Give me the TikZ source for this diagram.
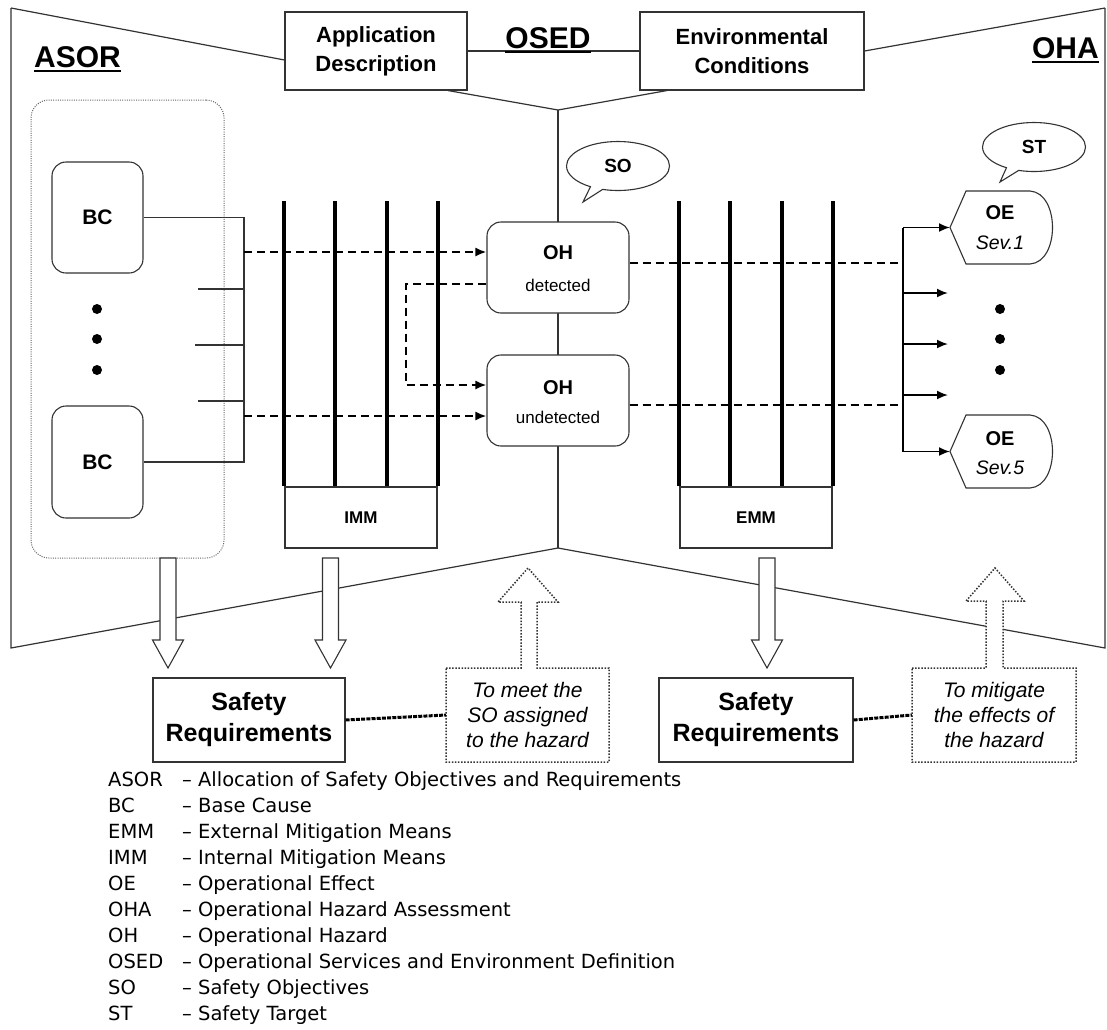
\documentclass[tikz,border=0pt]{standalone}
\usepackage{fontspec}
\setmainfont{Liberation Sans}
\newfontfamily\legendfont{DejaVu Sans}
\usetikzlibrary{shapes.callouts,shapes.geometric,arrows.meta,calc}
\newcommand\hollowdown[5]{% hollow arrow: x, ytop, ybase, ytip, halfhead
  \draw[hollow] (#1-8,#2) -- (#1+8,#2) -- (#1+8,#3) -- (#1+#5,#3) -- (#1,#4) -- (#1-#5,#3) -- (#1-8,#3) -- cycle;}
\begin{document}
\begin{tikzpicture}[x=1pt,y=-1pt,
  frame/.style={line width=1.2pt, draw=black!80},
  box/.style={draw=black!80, line width=1.1pt, fill=white, inner sep=0pt, align=center},
  rbox/.style={box, rounded corners=14pt},
  bar/.style={line width=4pt, draw=black},
  dashl/.style={line width=2pt, dash pattern=on 8pt off 5pt},
  dasharrow/.style={dashl, -{Latex[length=11pt,width=9pt]}},
  solidarrow/.style={line width=1.8pt, -{Latex[length=11pt,width=9pt]}},
  hollow/.style={line width=1.1pt, draw=black!80, fill=white},
  dotline/.style={line width=1.5pt, draw=black!80, dash pattern=on 1.5pt off 1.6pt},
  thickdot/.style={line width=3pt, draw=black, dash pattern=on 4pt off 1.2pt},
  title/.style={font=\bfseries\fontsize{30}{36}\selectfont, inner sep=0pt},
  callout/.style={ellipse callout, draw=black!80, line width=1.1pt, fill=white, minimum width=103pt, minimum height=49pt, inner sep=0pt, font=\bfseries\fontsize{19}{22}\selectfont},
  dot/.style={circle, fill=black, inner sep=0pt, minimum size=10pt},
  legend/.style={anchor=base west, inner sep=0pt, font=\legendfont\fontsize{19.5}{23}\selectfont}
]
\useasboundingbox[fill=white] (0,0) rectangle (1107,1029);

% ---------- frame ----------
\coordinate (tl) at (11,8);
\coordinate (bl) at (11,648);
\coordinate (cb) at (558,548);
\coordinate (ct) at (558,110);
\coordinate (br) at (1105,648);
\coordinate (tr) at (1105,8);

\node[box, minimum width=182pt, minimum height=78pt, font=\bfseries\fontsize{22}{29}\selectfont] (app) at (376,51) {Application\\Description};
\node[box, minimum width=224pt, minimum height=78pt, font=\bfseries\fontsize{22}{29}\selectfont] (env) at (752,51) {Environmental\\Conditions};

\draw[frame] (tl) -- ([yshift=-9pt]app.west);
\draw[frame] (app.east) -- (env.west);
\draw[frame] (env.east) -- (tr);
\draw[frame] ([xshift=72pt]app.south) -- (ct);
\draw[frame] ([xshift=-85pt]env.south) -- (ct);
\draw[frame] (tl) -- (bl) -- (cb) -- (br) -- (tr);
\draw[frame] (ct) -- (cb);

% ---------- titles ----------
\node[title, anchor=base west] (asor) at (34,67) {ASOR};
\draw[line width=2.5pt] ([yshift=-4pt]asor.base west) -- ([yshift=-4pt]asor.base east);
\node[title, anchor=base, fill=white, inner sep=1pt] (osed) at (548,48) {OSED};
\draw[line width=2.5pt] ([yshift=-4pt,xshift=1pt]osed.base west) -- ([yshift=-4pt,xshift=-1pt]osed.base east);
\node[title, anchor=base east] (oha) at (1099,58) {OHA};
\draw[line width=2.5pt] ([yshift=-4pt]oha.base west) -- ([yshift=-4pt]oha.base east);

% ---------- ASOR group ----------
\node[draw=black!60, line width=1pt, dash pattern=on 1pt off 1.3pt, rounded corners=18pt, minimum width=193pt, minimum height=458pt] (asorgrp) at (127.5,329) {};
\node[rbox, minimum width=91pt, minimum height=111pt, font=\bfseries\fontsize{21}{24}\selectfont] (bc1) at (97.5,217.5) {BC};
\node[rbox, minimum width=91pt, minimum height=112pt, font=\bfseries\fontsize{21}{24}\selectfont] (bc2) at (97.5,462) {BC};
\node[dot] (ld1) at (97,309) {};
\node[dot] (ld2) at (97,339) {};
\node[dot] (ld3) at (97,370) {};

\coordinate (bus1) at (244,217.5);
\coordinate (bus2) at (244,462);
\draw[frame] (bc1.east) -- (bus1) -- (bus2) -- (bc2.east);
\coordinate (st1) at (198,289);
\coordinate (st2) at (195,345);
\coordinate (st3) at (198,401);
\draw[frame] (st1) -- (st1 -| bus1);
\draw[frame] (st2) -- (st2 -| bus1);
\draw[frame] (st3) -- (st3 -| bus1);

% ---------- IMM ----------
\node[box, minimum width=152pt, minimum height=61pt, font=\bfseries\fontsize{17}{20}\selectfont] (imm) at (361,517.5) {IMM};
\foreach \t in {0,0.333,0.667,1}
  \draw[bar] ($(imm.north west)!\t!(imm.north east)+(0,-285)$) -- ($(imm.north west)!\t!(imm.north east)$);

% ---------- EMM ----------
\node[box, minimum width=152pt, minimum height=61pt, font=\bfseries\fontsize{17}{20}\selectfont] (emm) at (756,517.5) {EMM};
\foreach \t in {0,0.333,0.667,1}
  \draw[bar] ($(emm.north west)!\t!(emm.north east)+(0,-285)$) -- ($(emm.north west)!\t!(emm.north east)$);

% ---------- OH boxes ----------
\node[rbox, minimum width=142pt, minimum height=91pt] (oh1) at (558,267.5) {};
\node[inner sep=0pt, font=\bfseries\fontsize{20}{22}\selectfont] (oh1a) at (558,253) {OH};
\node[inner sep=0pt, font=\fontsize{17}{20}\selectfont] (oh1b) at (558,285) {detected};
\node[rbox, minimum width=142pt, minimum height=91pt] (oh2) at (558,400.5) {};
\node[inner sep=0pt, font=\bfseries\fontsize{20}{22}\selectfont] (oh2a) at (558,388) {OH};
\node[inner sep=0pt, font=\fontsize{17}{20}\selectfont] (oh2b) at (558,417) {undetected};

% dashed arrows left
\coordinate (s1) at (244,252);
\coordinate (s2) at (244,416);
\draw[dasharrow] (s1) -- (s1 -| oh1.west);
\draw[dasharrow] (s2) -- (s2 -| oh2.west);
\coordinate (k1) at (406,284);
\coordinate (k2) at (406,385);
\draw[dasharrow] (k1 -| oh1.west) -- (k1) -- (k2) -- (k2 -| oh2.west);

% callouts
\node[callout, callout absolute pointer={(583,202)}] (so) at (618,166) {SO};
\node[callout, callout absolute pointer={(1000,182)}] (st) at (1034,147) {ST};

% ---------- OE shapes ----------
\coordinate (oe1tip) at (950,227.5);
\coordinate (oe5tip) at (950,451.5);
\draw[line width=1.1pt, draw=black!80, fill=white] (oe1tip) -- (966,191) -- (1030,191) .. controls (1060,193) and (1060,262) .. (1030,264) -- (966,264) -- cycle;
\draw[line width=1.1pt, draw=black!80, fill=white] (oe5tip) -- (966,415) -- (1030,415) .. controls (1060,417) and (1060,486) .. (1030,488) -- (966,488) -- cycle;
\node[inner sep=0pt, font=\bfseries\fontsize{20}{22}\selectfont] (oe1a) at (1000,213) {OE};
\node[inner sep=0pt, font=\itshape\fontsize{19.5}{22}\selectfont] (oe1b) at (1000,243) {Sev.1};
\node[inner sep=0pt, font=\bfseries\fontsize{20}{22}\selectfont] (oe5a) at (1000,439) {OE};
\node[inner sep=0pt, font=\itshape\fontsize{19.5}{22}\selectfont] (oe5b) at (1000,468) {Sev.5};
\node[dot] (rd1) at (1000,309) {};
\node[dot] (rd2) at (1000,339) {};
\node[dot] (rd3) at (1000,370) {};

% right bus
\coordinate (rb1) at (903,227.5);
\coordinate (rb5) at (903,451.5);
\coordinate (rb2) at (903,293);
\coordinate (rb3) at (903,344);
\coordinate (rb4) at (903,395);
\coordinate (re2) at (948,293);
\coordinate (re3) at (948,344);
\coordinate (re4) at (948,395);
\draw[line width=1.8pt] (rb1) -- (rb5);
\draw[solidarrow] (rb1) -- (oe1tip);
\draw[solidarrow] (rb5) -- (oe5tip);
\draw[solidarrow] (rb2) -- (re2);
\draw[solidarrow] (rb3) -- (re3);
\draw[solidarrow] (rb4) -- (re4);

\coordinate (r1) at (903,263);
\coordinate (r2) at (903,405);
\draw[dashl] (r1 -| oh1.east) -- (r1);
\draw[dashl] (r2 -| oh2.east) -- (r2);

% ---------- bottom: hollow arrows ----------
\hollowdown{168}{558}{640}{668}{15.5}
\hollowdown{330.5}{558}{640}{668}{15.5}
\hollowdown{767}{558}{640}{668}{15.5}

\node[box, minimum width=192pt, minimum height=84pt, font=\bfseries\fontsize{25}{31}\selectfont] (sr1) at (249,720) {Safety\\Requirements};
\node[box, minimum width=194pt, minimum height=84pt, font=\bfseries\fontsize{25}{31}\selectfont] (sr2) at (756,720) {Safety\\Requirements};

% dotted boxes with up arrows
\draw[dotline, fill=white] (446,668) -- (521,668) -- (521,602) -- (498,602) -- (528,568) -- (558,602) -- (537,602) -- (537,668) -- (609,668) -- (609,762) -- (446,762) -- cycle;
\node[inner sep=0pt, minimum width=163pt, minimum height=94pt, align=center, font=\itshape\fontsize{21}{25}\selectfont] (db1) at (527.5,715) {To meet the\\SO assigned\\to the hazard};
\draw[dotline, fill=white] (912,668) -- (986,668) -- (986,601) -- (966,601) -- (995,568) -- (1024,601) -- (1003,601) -- (1003,668) -- (1076,668) -- (1076,762) -- (912,762) -- cycle;
\node[inner sep=0pt, minimum width=164pt, minimum height=94pt, align=center, font=\itshape\fontsize{21}{25}\selectfont] (db2) at (994,715) {To mitigate\\the effects of\\the hazard};

\draw[thickdot] (sr1.east) -- (db1.west);
\draw[thickdot] (sr2.east) -- (db2.west);

% ---------- legend ----------
\foreach \ab/\txt [count=\i from 0] in {ASOR/Allocation of Safety Objectives and Requirements, BC/Base Cause, EMM/External Mitigation Means, IMM/Internal Mitigation Means, OE/Operational Effect, OHA/Operational Hazard Assessment, OH/Operational Hazard, OSED/Operational Services and Environment Definition, SO/Safety Objectives, ST/Safety Target} {
  \node[legend] (lga\i) at (108,786+26*\i) {\ab};
  \node[legend] (lgb\i) at (182,786+26*\i) {– \txt};
}
\end{tikzpicture}
\end{document}
